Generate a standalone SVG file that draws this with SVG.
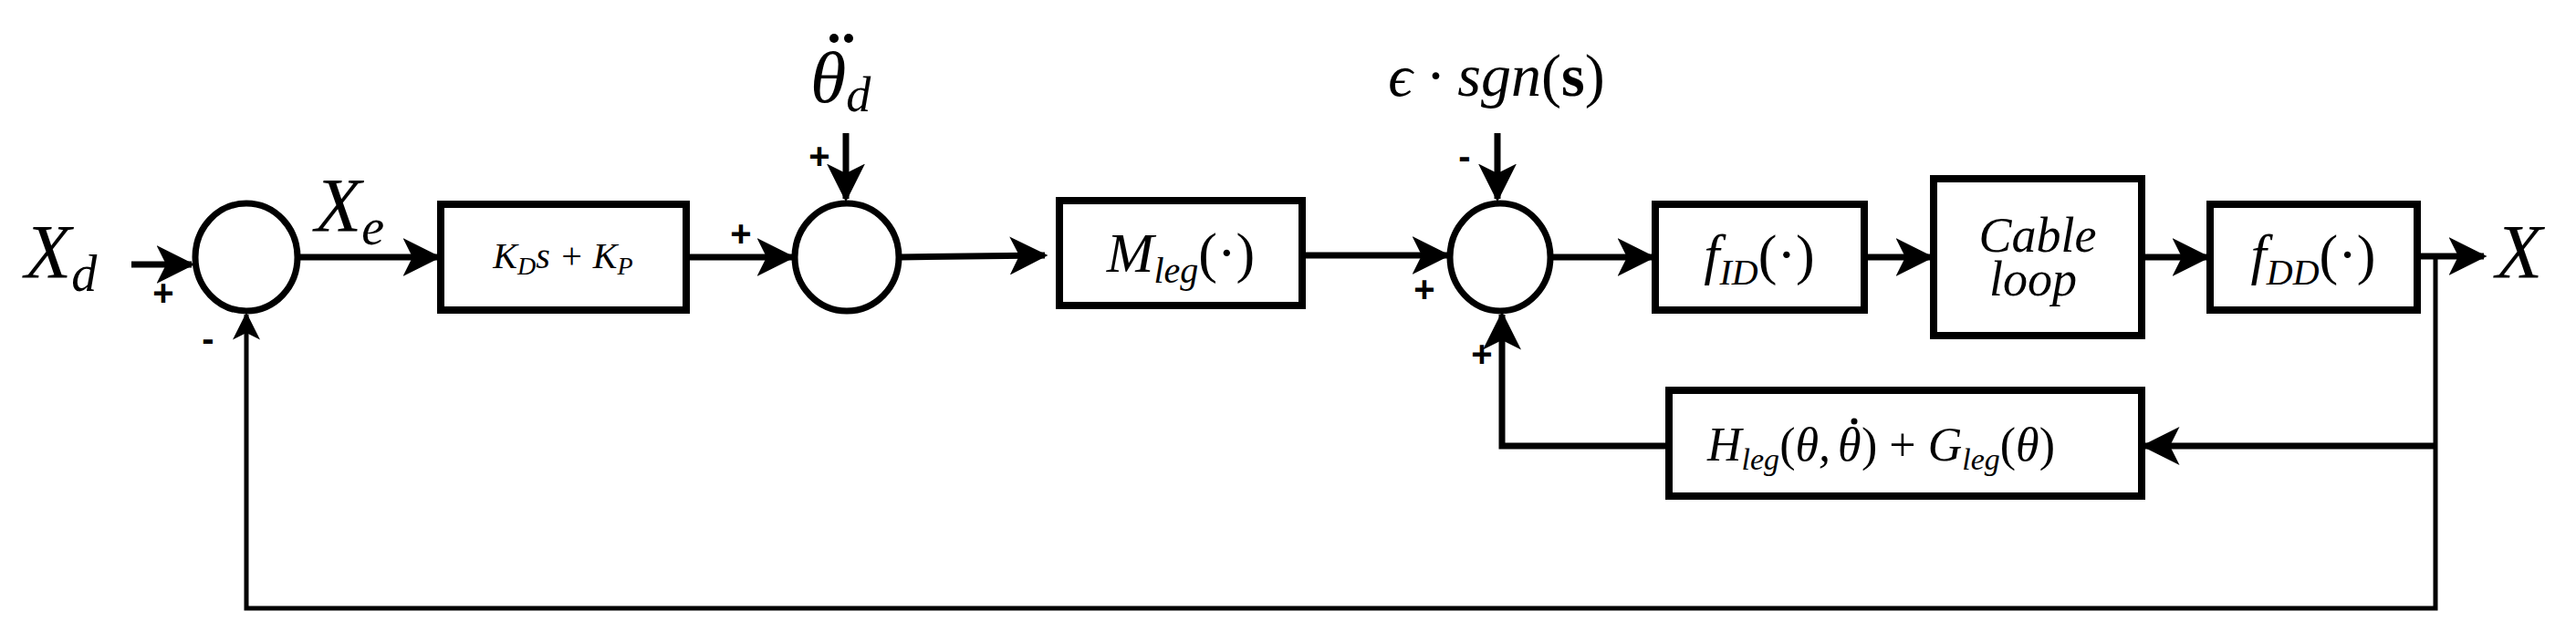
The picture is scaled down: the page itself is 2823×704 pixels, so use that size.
<svg xmlns="http://www.w3.org/2000/svg" width="2823" height="704" viewBox="0 0 2823 704">
<style>
.b{fill:#fff;stroke:#000;stroke-width:8}
.c{fill:#fff;stroke:#000;stroke-width:7}
.l{fill:none;stroke:#000;stroke-width:7}
.t{font-family:"Liberation Serif",serif;font-style:italic;fill:#000}
.s{font-family:"Liberation Sans",sans-serif;font-weight:bold;fill:#000;font-size:40px}
</style>
<defs>
<marker id="a" markerWidth="6" markerHeight="6" refX="5.5" refY="3" orient="auto" markerUnits="strokeWidth">
<path d="M0,0 L6,3 L0,6 L1.5,3 Z" fill="#000"/>
</marker>
</defs>
<g id="connectors">
<path class="l" d="M144,290 H210" marker-end="url(#a)"/>
<path class="l" d="M326,282 H480" marker-end="url(#a)"/>
<path class="l" d="M752,282 H868" marker-end="url(#a)"/>
<path class="l" d="M927,146 V218" marker-end="url(#a)"/>
<path class="l" d="M986,282 Q1070,281 1145,280" marker-end="url(#a)"/>
<path class="l" d="M1427,280 H1586" marker-end="url(#a)"/>
<path class="l" d="M1641,146 V218" marker-end="url(#a)"/>
<path class="l" d="M1699,282 H1811" marker-end="url(#a)"/>
<path class="l" d="M2043,282 H2116" marker-end="url(#a)"/>
<path class="l" d="M2347,282 H2419" marker-end="url(#a)"/>
<path class="l" d="M2649,281 H2722" marker-end="url(#a)"/>
<path class="l" d="M2669,281 V667 H270 V345" style="stroke-width:5" marker-end="url(#a)"/>
<path class="l" d="M2669,489 H2350" marker-end="url(#a)"/>
<path class="l" d="M1827,489 H1646 V345" marker-end="url(#a)"/>
</g>
<g id="sum1"><ellipse class="c" cx="270" cy="282" rx="56" ry="59"/></g>
<g id="sum2"><ellipse class="c" cx="928" cy="282" rx="57" ry="59"/></g>
<g id="sum3"><ellipse class="c" cx="1644" cy="282" rx="55" ry="59"/></g>
<g id="kd"><rect class="b" x="483" y="224" width="269" height="116"/>
<text class="t" x="617" y="294" font-size="40" text-anchor="middle">K<tspan font-size="28" dy="7">D</tspan><tspan dy="-7">s + K</tspan><tspan font-size="28" dy="7">P</tspan></text></g>
<g id="mleg"><rect class="b" x="1161" y="220" width="266" height="115"/>
<text class="t" x="1294" y="298" font-size="62" text-anchor="middle">M<tspan font-size="40" dy="12">leg</tspan><tspan font-style="normal" dy="-12">(·)</tspan></text></g>
<g id="fid"><rect class="b" x="1814" y="224" width="229" height="116"/>
<text class="t" x="1928" y="300" font-size="62" text-anchor="middle">f<tspan font-size="40" dy="12">ID</tspan><tspan font-style="normal" dy="-12">(·)</tspan></text></g>
<g id="cable"><rect class="b" x="2119" y="196" width="228" height="172"/>
<text class="t" x="2233" y="276" font-size="54" text-anchor="middle">Cable</text>
<text class="t" x="2228" y="324" font-size="54" text-anchor="middle">loop</text></g>
<g id="fdd"><rect class="b" x="2422" y="224" width="227" height="116"/>
<text class="t" x="2535" y="300" font-size="62" text-anchor="middle">f<tspan font-size="40" dy="12">DD</tspan><tspan font-style="normal" dy="-12">(·)</tspan></text></g>
<g id="hleg"><rect class="b" x="1829" y="428" width="518" height="116"/>
<text class="t" x="2006" y="505" font-size="52" text-anchor="end">H<tspan font-size="34" dy="10">leg</tspan><tspan font-style="normal" dy="-10">(</tspan>θ,</text>
<text class="t" x="2014" y="505" font-size="52">θ</text>
<circle cx="2032" cy="462" r="3.5" fill="#000"/>
<text class="t" x="2040" y="505" font-size="52"><tspan font-style="normal">) + </tspan>G<tspan font-size="34" dy="10">leg</tspan><tspan font-style="normal" dy="-10">(</tspan>θ<tspan font-style="normal">)</tspan></text></g>
<g id="labels">
<text class="t" x="27" y="305" font-size="84">X<tspan font-size="56" dy="14">d</tspan></text>
<text class="t" x="345" y="254" font-size="84">X<tspan font-size="56" dy="14">e</tspan></text>
<text class="t" x="888" y="112" font-size="80">θ<tspan font-size="54" dy="10">d</tspan></text>
<circle cx="914" cy="42" r="5" fill="#000"/>
<circle cx="930" cy="42" r="5" fill="#000"/>
<text class="t" x="1640" y="105" font-size="66" text-anchor="middle">ϵ · sgn<tspan font-style="normal">(</tspan><tspan font-style="normal" font-weight="bold">s</tspan><tspan font-style="normal">)</tspan></text>
<text class="t" x="2735" y="305" font-size="84">X</text>
<text class="s" x="179" y="335" text-anchor="middle">+</text>
<text class="s" x="228" y="385" text-anchor="middle">-</text>
<text class="s" x="812" y="270" text-anchor="middle">+</text>
<text class="s" x="898" y="185" text-anchor="middle">+</text>
<text class="s" x="1605" y="185" text-anchor="middle">-</text>
<text class="s" x="1561" y="331" text-anchor="middle">+</text>
<text class="s" x="1624" y="402" text-anchor="middle">+</text>
</g>
</svg>
